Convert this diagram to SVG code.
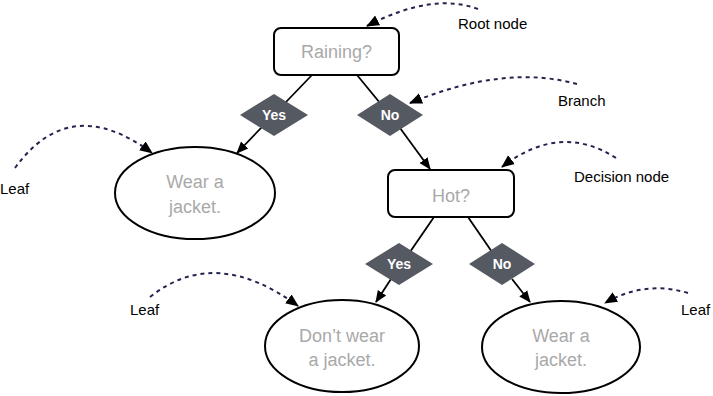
<svg xmlns="http://www.w3.org/2000/svg" width="713" height="396" viewBox="0 0 713 396">
  <style>
    .box { fill: #ffffff; stroke: #000000; stroke-width: 2; }
    .leaf { fill: #ffffff; stroke: #000000; stroke-width: 2; }
    .diamond { fill: #555961; stroke: none; }
    .node-text { font-family: "Liberation Sans", Arial, sans-serif; font-size: 18px; fill: #a9a9a9; text-anchor: middle; }
    .branch-text { font-family: "Liberation Sans", Arial, sans-serif; font-size: 14px; font-weight: bold; fill: #ffffff; text-anchor: middle; }
    .label { font-family: "Liberation Sans", Arial, sans-serif; font-size: 15px; fill: #000000; }
    .edge { fill: none; stroke: #000000; stroke-width: 1.8; }
    .note { fill: none; stroke: #23234f; stroke-width: 2; stroke-dasharray: 4 4; }
  </style>
  <defs>
    <marker id="arrow" markerUnits="userSpaceOnUse" markerWidth="12" markerHeight="12" viewBox="0 0 12 12" refX="11" refY="6" orient="auto">
      <path d="M0,1 L12,6 L0,11 Z" fill="#000000"/>
    </marker>
    <marker id="note-arrow" markerUnits="userSpaceOnUse" markerWidth="13" markerHeight="13" viewBox="0 0 13 13" refX="12" refY="6.5" orient="auto">
      <path d="M0,1 L13,6.5 L0,12 Z" fill="#000000"/>
    </marker>
  </defs>

  <!-- connectors between nodes and callout curves -->
  <g id="connectors">
    <line class="edge" x1="312" y1="75" x2="286" y2="102"/>
    <line class="edge" x1="357" y1="75" x2="380" y2="103"/>
    <line class="edge" x1="262" y1="127" x2="237" y2="153" marker-end="url(#arrow)"/>
    <line class="edge" x1="400" y1="128" x2="430" y2="169" marker-end="url(#arrow)"/>
    <line class="edge" x1="434" y1="217" x2="410" y2="252"/>
    <line class="edge" x1="468" y1="217" x2="492" y2="252"/>
    <line class="edge" x1="391" y1="279" x2="376" y2="302" marker-end="url(#arrow)"/>
    <line class="edge" x1="512" y1="279" x2="530" y2="302" marker-end="url(#arrow)"/>

    <path class="note" d="M478,9 Q432,-8 367,26" marker-end="url(#note-arrow)"/>
    <path class="note" d="M577,84 Q505,64 410,103" marker-end="url(#note-arrow)"/>
    <path class="note" d="M15,168 Q70,92 152,153" marker-end="url(#note-arrow)"/>
    <path class="note" d="M616,158 Q560,122 502,167" marker-end="url(#note-arrow)"/>
    <path class="note" d="M150,297 Q215,245 298,306" marker-end="url(#note-arrow)"/>
    <path class="note" d="M688,293 Q645,280 605,303" marker-end="url(#note-arrow)"/>
  </g>

  <g id="raining">
    <rect class="box" x="274" y="28" width="125" height="47" rx="7"/>
    <text class="node-text" x="336.5" y="58">Raining?</text>
  </g>

  <g id="branch-yes-1">
    <polygon class="diamond" points="240,115 274,94 308,115 274,136"/>
    <text class="branch-text" x="274" y="120">Yes</text>
  </g>

  <g id="branch-no-1">
    <polygon class="diamond" points="357,115 390,94 423,115 390,136"/>
    <text class="branch-text" x="390" y="120">No</text>
  </g>

  <g id="leaf-1">
    <ellipse class="leaf" cx="195" cy="193" rx="80" ry="46"/>
    <text class="node-text" x="195" y="188">Wear a</text>
    <text class="node-text" x="195" y="213">jacket.</text>
  </g>

  <g id="hot">
    <rect class="box" x="388" y="170" width="126" height="47" rx="7"/>
    <text class="node-text" x="451" y="202">Hot?</text>
  </g>

  <g id="branch-yes-2">
    <polygon class="diamond" points="365,264 399,243 433,264 399,285"/>
    <text class="branch-text" x="399" y="269">Yes</text>
  </g>

  <g id="branch-no-2">
    <polygon class="diamond" points="469,264 502,243 535,264 502,285"/>
    <text class="branch-text" x="502" y="269">No</text>
  </g>

  <g id="leaf-2">
    <ellipse class="leaf" cx="342" cy="346" rx="77" ry="46"/>
    <text class="node-text" x="342" y="342">Don’t wear</text>
    <text class="node-text" x="342" y="366">a jacket.</text>
  </g>

  <g id="leaf-3">
    <ellipse class="leaf" cx="561" cy="347" rx="79" ry="46"/>
    <text class="node-text" x="561" y="342">Wear a</text>
    <text class="node-text" x="561" y="366">jacket.</text>
  </g>

  <g id="labels">
    <text class="label" x="458" y="29">Root node</text>
    <text class="label" x="558" y="106">Branch</text>
    <text class="label" x="0" y="194">Leaf</text>
    <text class="label" x="574" y="182">Decision node</text>
    <text class="label" x="130" y="315">Leaf</text>
    <text class="label" x="681" y="315">Leaf</text>
  </g>
</svg>
